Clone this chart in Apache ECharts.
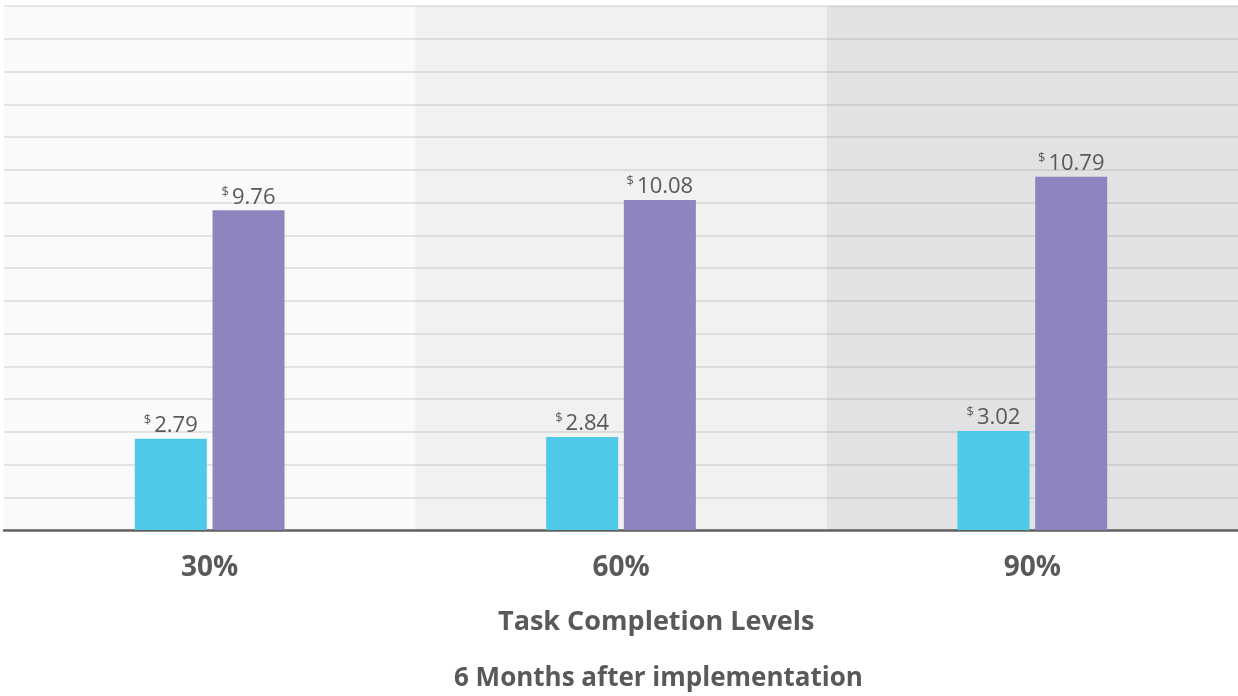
<!DOCTYPE html>
<html>
<head>
<meta charset="utf-8">
<script src="https://cdn.jsdelivr.net/npm/echarts@6/dist/echarts.min.js"></script>
<style>
html,body{margin:0;padding:0;background:#fff;}
#chart{width:1238px;height:696px;}
</style>
</head>
<body>
<div id="chart"></div>
<script>
const categories = ['30%', '60%', '90%'];
const seriesA = [2.79, 2.84, 3.02];
const seriesB = [9.76, 10.08, 10.79];
const axisName = 'Task Completion Levels';
const subtitle = '6 Months after implementation';

const textColor = '#58595b';
const labelFmt = p => '{s|$}{v|' + p.value.toFixed(2) + '}';
const labelStyle = {
  show: true, position: 'top', distance: 1,
  formatter: labelFmt,
  rich: {
    s: { fontSize: 13, color: textColor, fontFamily: 'Open Sans', verticalAlign: 'top', padding: [0, 3, 11, 0] },
    v: { fontSize: 22, color: textColor, fontFamily: 'Open Sans' }
  }
};

const chart = echarts.init(document.getElementById('chart'));
chart.setOption({
  animation: false,
  backgroundColor: '#ffffff',
  grid: { left: 4, right: 0, top: 6, bottom: 166, containLabel: false },
  xAxis: {
    type: 'category', data: categories, z: 0,
    axisLine: { show: true, lineStyle: { color: '#626262', width: 2.5 } },
    axisTick: { show: false },
    axisLabel: { margin: 24, fontSize: 28, fontWeight: 'bold', color: textColor, fontFamily: 'Open Sans' },
    splitArea: { show: true, areaStyle: { color: ['#fafafa', '#f0f1f1', '#e1e2e4'] } },
    splitLine: { show: false }
  },
  yAxis: {
    type: 'value', min: 0, max: 16, interval: 1, z: 1,
    axisLabel: { show: false }, axisLine: { show: false }, axisTick: { show: false },
    splitLine: { show: true, lineStyle: { color: 'rgba(100,100,100,0.2)', width: 1.5 } }
  },
  series: [
    { type: 'bar', data: seriesA, barWidth: 72, barGap: '8%', itemStyle: { color: '#4fc9e8' }, label: labelStyle, z: 3 },
    { type: 'bar', data: seriesB, barWidth: 72, barGap: '8%', itemStyle: { color: '#8c85bf' }, label: labelStyle, z: 3 }
  ],
  graphic: [
    { type: 'text', left: 658 - 160, top: 609, style: { text: axisName, fontSize: 27, fontWeight: 'bold', fill: textColor, fontFamily: 'Open Sans' } },
    { type: 'text', left: 658 - 204, top: 666, style: { text: subtitle, fontSize: 26, fontWeight: 'bold', fill: textColor, fontFamily: 'Open Sans' } }
  ]
});
</script>
</body>
</html>
